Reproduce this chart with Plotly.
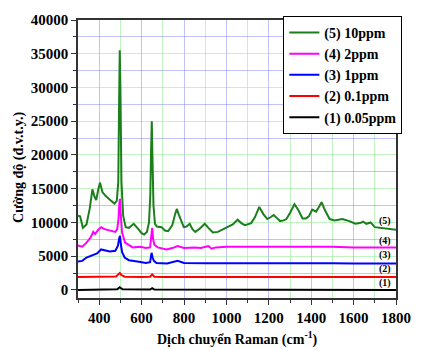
import plotly.graph_objects as go

# ---- data ----
x5 = [300, 310, 323, 340, 355, 368, 378, 386, 395, 404, 415, 431, 453, 472, 483, 490, 494, 497, 500, 505,
      513, 525, 540, 563, 585, 600, 612, 625, 635, 641, 645, 648, 651, 656, 663, 672, 694, 710, 725, 745,
      758, 766, 775, 790, 799, 812, 827, 840, 853, 875, 898, 915, 936, 960, 985, 1004, 1030, 1053, 1070, 1087,
      1100, 1117, 1135, 1155, 1175, 1193, 1210, 1223, 1240, 1253, 1270, 1283, 1300, 1321, 1340, 1359, 1375, 1389,
      1405, 1415, 1423, 1435, 1449, 1465, 1487, 1510, 1547, 1580, 1608, 1630, 1645, 1660, 1668, 1680, 1700, 1730,
      1760, 1800]
y5 = [11000, 10900, 9200, 9700, 12000, 14900, 13800, 13300, 14800, 15900, 14500, 13900, 13300, 12800, 13200, 16000, 28000, 35500, 30000, 16000,
      11000, 9300, 9200, 9800, 9000, 8400, 8200, 8600, 10000, 14000, 21000, 25000, 20000, 12500, 9800, 9400, 9300, 8800, 8700, 9600,
      11200, 12000, 11200, 9800, 9300, 9400, 9800, 9000, 8600, 9100, 9800, 9200, 8500, 8600, 9000, 9300, 9700, 10400, 9900, 9600,
      9700, 9900, 10800, 12300, 11200, 10500, 10800, 11100, 10600, 10200, 10300, 10500, 11400, 12700, 11800, 10600, 10600, 10900,
      11900, 11700, 11600, 12200, 13000, 11800, 10500, 10300, 10500, 10200, 9800, 9900, 10100, 9800, 9900, 10000, 9300, 9200,
      9100, 8900]

x4 = [300, 320, 340, 360, 372, 381, 395, 409, 425, 445, 460, 476, 485, 491, 495, 498, 502, 508, 522, 540,
      558, 594, 620, 640, 646, 650, 654, 660, 676, 700, 717, 745, 770, 800, 850, 880, 900, 915, 930, 950,
      1000, 1100, 1160, 1200, 1300, 1400, 1500, 1600, 1700, 1800]
y4 = [6600, 6400, 7000, 7800, 8600, 8300, 8900, 9300, 9000, 8800, 8700, 8600, 9000, 10500, 12800, 13500, 11000, 8500, 7000, 6600,
      6300, 6400, 6200, 6300, 7800, 9200, 7600, 6700, 6300, 6100, 6000, 6200, 6500, 6200, 6300, 6200, 6400, 6500, 6100, 6300,
      6400, 6400, 6500, 6400, 6400, 6400, 6400, 6300, 6300, 6300]

x3 = [300, 320, 340, 370, 390, 409, 430, 450, 476, 488, 494, 498, 502, 508, 520, 540, 580, 620, 640, 647,
      652, 658, 670, 690, 720, 770, 800, 900, 1000, 1100, 1160, 1200, 1300, 1400, 1500, 1600, 1700, 1800]
y3 = [4200, 4300, 4800, 5200, 5400, 6000, 5800, 5700, 5800, 6500, 7600, 8000, 6800, 5600, 4800, 4400, 4200, 4000, 4100, 5500,
      4800, 4300, 4000, 4000, 3900, 4300, 4000, 3950, 3950, 4000, 4050, 3950, 3950, 3950, 3950, 3900, 3900, 3900]

x2 = [300, 400, 480, 490, 497, 505, 520, 600, 640, 650, 660, 700, 800, 1000, 1200, 1400, 1600, 1800]
y2 = [1900, 1950, 2000, 2300, 2500, 2200, 1950, 1900, 1950, 2300, 1950, 1900, 1900, 1900, 1900, 1900, 1900, 1900]

x1 = [300, 400, 485, 497, 510, 640, 650, 660, 800, 1000, 1200, 1400, 1600, 1800]
y1 = [0, 50, 100, 400, 100, 50, 250, 50, 50, 50, 20, 20, 0, 0]

names = ["(1) 0.05ppm", "(2) 0.1ppm", "(3) 1ppm", "(4) 2ppm", "(5) 10ppm"]
colors = ["#000000", "#ff0000", "#0000ff", "#ff00ff", "#1b7f1b"]
labels = ["(1)", "(2)", "(3)", "(4)", "(5)"]
label_y = [1000, 3100, 5100, 7300, 10200]
label_x = 1750

xs = [x1, x2, x3, x4, x5]
ys = [y1, y2, y3, y4, y5]

FONT = "Liberation Serif"

fig = go.Figure()
for xv, yv, nm, c in zip(xs, ys, names, colors):
    fig.add_trace(go.Scatter(x=xv, y=yv, mode="lines", name=nm,
                             line=dict(color=c, width=2)))

for lab, ly in zip(labels, label_y):
    fig.add_annotation(x=label_x, y=ly, text=lab, showarrow=False,
                       font=dict(family=FONT, size=10, color="black", weight="bold"))

fig.add_annotation(xref="paper", yref="paper", x=0.5, y=-0.145, yanchor="middle",
                   text="Dịch chuyển Raman (cm<sup>-1</sup>)", showarrow=False,
                   font=dict(family=FONT, size=14, color="black", weight="bold"))
fig.add_annotation(xref="paper", yref="paper", x=-0.215, y=0.47, textangle=-90,
                   text="Cường độ (đ.v.t.y.)", showarrow=False,
                   font=dict(family=FONT, size=14, color="black", weight="bold"))

fig.update_layout(
    width=423, height=350,
    margin=dict(l=78, r=15, t=16, b=52),
    paper_bgcolor="white", plot_bgcolor="white",
    font=dict(family=FONT, size=15, color="black", weight="bold"),
    showlegend=True,
    legend=dict(x=1.02, y=1.015, xanchor="right", yanchor="top", traceorder="reversed",
                bordercolor="black", borderwidth=1, bgcolor="white",
                font=dict(family=FONT, size=14, color="black", weight="bold"),
                itemwidth=30, tracegroupgap=0),
    xaxis=dict(range=[300, 1800], tick0=0, dtick=200, tickformat="d",
               showgrid=True, gridcolor="rgba(120,120,255,0.45)", gridwidth=1,
               showline=True, linecolor="#333", linewidth=1.5, mirror=True,
               ticks="outside", ticklen=5, tickcolor="#333", zeroline=False,
               minor=dict(dtick=100, tick0=300, showgrid=True, gridcolor="rgba(120,230,120,0.45)",
                          ticks="outside", ticklen=3, tickcolor="#333")),
    yaxis=dict(range=[-1200, 40000], tick0=0, dtick=5000, tickformat="d",
               showgrid=True, gridcolor="rgba(120,230,120,0.45)", gridwidth=1,
               showline=True, linecolor="#333", linewidth=1.5, mirror=True,
               ticks="outside", ticklen=5, tickcolor="#333", zeroline=False,
               minor=dict(dtick=2500, tick0=0, showgrid=True, gridcolor="rgba(120,120,255,0.45)",
                          ticks="outside", ticklen=3, tickcolor="#333")),
)

fig.write_html("out.html")
